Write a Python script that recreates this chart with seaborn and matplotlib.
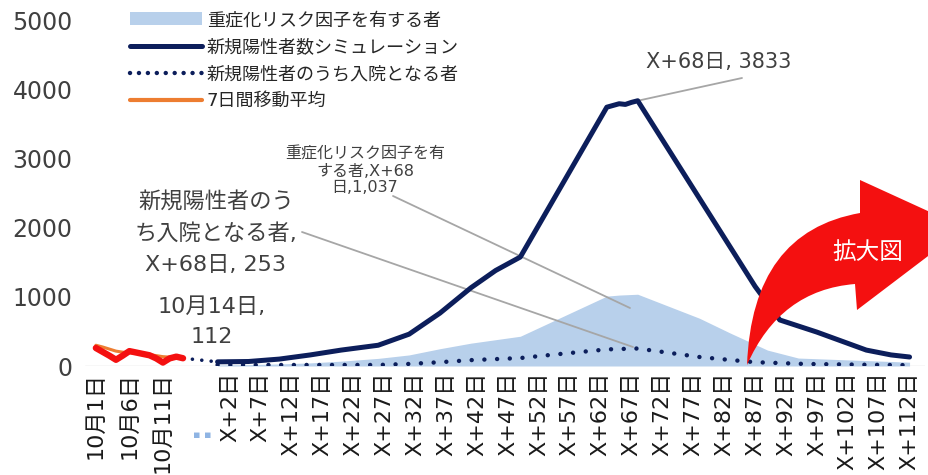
import numpy as np
import pandas as pd
import matplotlib
matplotlib.use("Agg")
import matplotlib.pyplot as plt
import seaborn as sns
from matplotlib.patches import Patch, PathPatch
from matplotlib.path import Path
from matplotlib.lines import Line2D

# ---------------- data ----------------
oct_labels = ['10月1日', '10月2日', '10月3日', '10月4日', '10月5日', '10月6日', '10月7日',
              '10月8日', '10月9日', '10月10日', '10月11日', '10月12日', '10月13日', '10月14日']
oct_daily = [260, 205, 150, 90, 150, 215, 195, 175, 155, 110, 50, 110, 135, 112]
oct_ma7 = [300, 275, 245, 215, 200, 192, 185, 175, 165, 150, 135, 128, 122, 118]

sim_days = [0, 5, 10, 15, 20, 26, 31, 36, 41, 45, 49, 63, 65, 66, 67, 68, 87, 91, 97, 105, 109, 112]
sim_cases = [60, 65, 100, 160, 230, 300, 460, 765, 1130, 1380, 1575, 3740, 3790, 3780, 3810, 3833,
             1150, 665, 490, 230, 160, 130]

risk_days = [0, 5, 10, 15, 20, 26, 31, 36, 41, 45, 49, 63, 65, 68, 78, 83, 89, 94, 100, 106, 112]
risk_vals = [15, 20, 30, 45, 70, 110, 160, 250, 330, 380, 430, 1010, 1025, 1037, 690, 475, 230,
             115, 95, 75, 55]

hosp_days = [0, 10, 20, 26, 31, 36, 41, 45, 49, 55, 63, 68, 78, 83, 87, 95, 105, 112]
hosp_vals = [15, 15, 15, 15, 30, 55, 85, 100, 115, 170, 240, 253, 130, 87, 55, 30, 18, 12]

oct_tick_idx = [0, 5, 10]
x_tick_days = [2, 7, 12, 17, 22, 27, 32, 37, 42, 47, 52, 57, 62, 67, 72, 77, 82, 87, 92, 97,
               102, 107, 112]
x_tick_labels = ['X+2日', 'X+7日', 'X+12日', 'X+17日', 'X+22日', 'X+27日', 'X+32日', 'X+37日',
                 'X+42日', 'X+47日', 'X+52日', 'X+57日', 'X+62日', 'X+67日', 'X+72日', 'X+77日',
                 'X+82日', 'X+87日', 'X+92日', 'X+97日', 'X+102日', 'X+107日', 'X+112日']
y_ticks = [0, 1000, 2000, 3000, 4000, 5000]

legend_labels = ['重症化リスク因子を有する者', '新規陽性者数シミュレーション',
                 '新規陽性者のうち入院となる者', '7日間移動平均']

# ---------------- layout / style ----------------
OCT_START, OCT_STEP = -19.7, 1.085      # October days drawn on their own spacing
oct_x = OCT_START + OCT_STEP * np.arange(len(oct_daily))

NAVY = '#0c1e5b'
AREA = '#b8d0eb'
RED = '#f41010'
ORANGE = '#ed7d31'
TXT = '#404040'

sns.set_theme(style='white')
plt.rcParams['font.family'] = ['DejaVu Sans', 'Noto Sans CJK JP']

W, H = 929, 475
fig = plt.figure(figsize=(W / 100, H / 100), dpi=100)
ax = fig.add_axes([85 / W, 1 - 366 / H, 840 / W, 346 / H])


def fp(x, y):
    """figure pixel (from top-left) -> figure fraction"""
    return (x / W, 1 - y / H)


# area
ax.fill_between(risk_days, risk_vals, color=AREA, lw=0, zorder=1)

# simulation line
sns.lineplot(x=sim_days, y=sim_cases, ax=ax, color=NAVY, lw=3.6, zorder=4,
             solid_joinstyle='round', solid_capstyle='round')

# hospitalisations (dotted)
sns.lineplot(x=hosp_days, y=hosp_vals, ax=ax, color=NAVY, lw=3.2, zorder=5,
             linestyle=(0, (0.01, 2.85)), dash_capstyle='round')

# connector from 10/14 to X+0
sns.lineplot(x=[oct_x[-1], sim_days[0]], y=[oct_daily[-1], sim_cases[0]], ax=ax, color=NAVY,
             lw=2.6, zorder=5, linestyle=(0, (0.01, 2.6)), dash_capstyle='round')

# October actuals
sns.lineplot(x=oct_x, y=oct_ma7, ax=ax, color=ORANGE, lw=2.2, zorder=6)
sns.lineplot(x=oct_x, y=oct_daily, ax=ax, color=RED, lw=4.6, zorder=7,
             solid_joinstyle='round', solid_capstyle='round')

ax.axhline(0, color='#d9d9d9', lw=1, zorder=0)

ax.set_xlim(-21.46, 114.5)
ax.set_ylim(0, 5000)
ax.set_yticks(y_ticks)
ax.set_yticklabels([str(v) for v in y_ticks])
xt = [oct_x[i] for i in oct_tick_idx] + x_tick_days
xl = [oct_labels[i] for i in oct_tick_idx] + x_tick_labels
ax.set_xticks(xt)
ax.set_xticklabels(xl)
ax.tick_params(axis='y', length=0, pad=9, labelsize=17, labelcolor=TXT)
ax.tick_params(axis='x', length=0, pad=4, labelsize=16, labelcolor='#1a1a1a', labelrotation=90)
for s in ax.spines.values():
    s.set_visible(False)
ax.set_xlabel('')
ax.set_ylabel('')
ax.grid(False)

# gap marker under the axis
ax.text(-2.5, -0.2, '▪ ▪', transform=ax.get_xaxis_transform(), ha='center', va='center',
        color='#8fb4e3', fontsize=8)

# legend
handles = [Patch(facecolor=AREA, edgecolor='none'),
           Line2D([], [], color=NAVY, lw=3.6),
           Line2D([], [], color=NAVY, lw=3.2, linestyle=(0, (0.01, 2.0)), dash_capstyle='round'),
           Line2D([], [], color=ORANGE, lw=3.0)]
fig.legend(handles, legend_labels, loc='upper left', bbox_to_anchor=fp(130, 11),
           bbox_transform=fig.transFigure, frameon=False, fontsize=13, handlelength=4.0,
           handletextpad=0.25, labelspacing=0.5, borderpad=0, borderaxespad=0,
           labelcolor='#262626')

# annotations
LEAD = '#a6a6a6'
fig.text(*fp(719, 62), 'X+68日, 3833', ha='center', va='center', fontsize=15, color=TXT)
ax.annotate('', xy=(sim_days[sim_cases.index(max(sim_cases))], max(sim_cases)),
            xytext=fp(742, 78), textcoords='figure fraction',
            arrowprops=dict(arrowstyle='-', color=LEAD, lw=1.3, shrinkA=0, shrinkB=0))

fig.text(*fp(365, 171), '重症化リスク因子を有\nする者,X+68\n日,1,037', ha='center', va='center',
         fontsize=11.5, color=TXT, linespacing=1.15)
ax.annotate('', xy=fp(630, 308), xycoords='figure fraction', xytext=fp(393, 196),
            textcoords='figure fraction',
            arrowprops=dict(arrowstyle='-', color=LEAD, lw=1.3, shrinkA=0, shrinkB=0))

fig.text(*fp(216, 233), '新規陽性者のう\nち入院となる者,\nX+68日, 253', ha='center', va='center',
         fontsize=16, color=TXT, linespacing=1.65)
ax.annotate('', xy=fp(633, 347), xycoords='figure fraction', xytext=fp(302, 232),
            textcoords='figure fraction',
            arrowprops=dict(arrowstyle='-', color=LEAD, lw=1.3, shrinkA=0, shrinkB=0))

fig.text(*fp(212, 322), '10月14日,\n112', ha='center', va='center', fontsize=16, color=TXT,
         linespacing=1.6)

# red "zoom" arrow (curved shaft, head leaving the right edge)
arrow_pts = [(747, 365), (752, 232), (860, 213), (860, 180), (965, 228), (857, 310), (855, 284),
             (780, 290), (747, 365), (747, 365)]
arrow_codes = [Path.MOVETO, Path.CURVE3, Path.CURVE3, Path.LINETO, Path.LINETO, Path.LINETO,
               Path.LINETO, Path.CURVE3, Path.CURVE3, Path.CLOSEPOLY]
arrow_path = Path([fp(x, y) for x, y in arrow_pts], arrow_codes)
fig.patches.append(PathPatch(arrow_path, facecolor=RED, edgecolor='none',
                             transform=fig.transFigure, zorder=10))
fig.text(*fp(868, 252), '拡大図', ha='center', va='center', fontsize=17, color='white', zorder=11)

fig.savefig('out.png', dpi=100)
